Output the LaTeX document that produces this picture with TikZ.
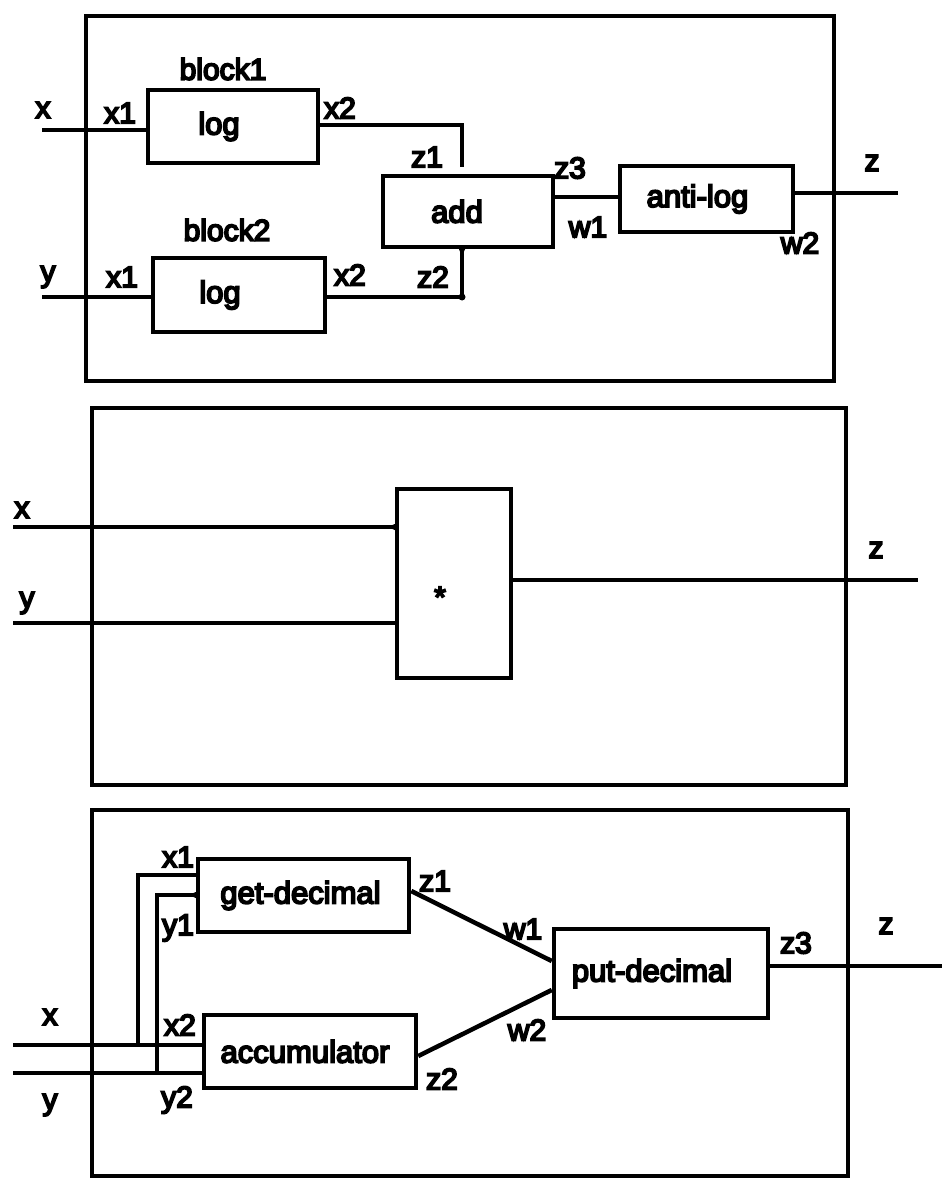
\documentclass[tikz,border=0pt]{standalone}
\usepackage{fontspec}
\newfontfamily\dfont{Liberation Sans}
\newcommand\hv[1]{\special{pdf:literal direct 2 Tr 1.8 w}#1\special{pdf:literal direct 0 Tr}}
\begin{document}
\begin{tikzpicture}[x=1pt,y=-1pt,
  frame/.style={draw, line width=4.5pt, inner sep=0pt},
  box/.style={draw, line width=4.5pt, inner sep=0pt, font=\dfont\fontsize{31}{36}\selectfont},
  lbl/.style={inner sep=0pt, font=\dfont\fontsize{30}{36}\selectfont},
  wire/.style={line width=4.5pt},
  jdot/.style={circle, fill, inner sep=0pt, minimum size=7pt}]
\useasboundingbox[fill=white] (0,0) rectangle (942,1180);

% ---------------- panel 1 ----------------
\node[frame, minimum width=748pt, minimum height=365pt] (f1) at (460,198.5) {};
\node[box, minimum width=170pt, minimum height=73pt] (b1) at (233,126.5) {\kern-28pt\hv{log}};
\node[box, minimum width=172pt, minimum height=74pt] (b2) at (239,295) {\kern-38pt\hv{log}};
\node[box, minimum width=170pt, minimum height=71pt] (ad) at (468,211.5) {\kern-22pt\hv{add}};
\node[box, minimum width=173pt, minimum height=66pt] (al) at (706.5,199) {\kern-18pt\hv{anti-log}};

\coordinate (xin1) at (42,130);
\coordinate (yin1) at (42,297);
\coordinate (j1) at (462,125);
\coordinate (j2) at (462,297);
\coordinate (zo1) at (898,193);
\draw[wire] (xin1) -- (xin1 -| b1.west);
\draw[wire] (yin1) -- (yin1 -| b2.west);
\draw[wire] (b1.east |- j1) -- (j1) -- ([yshift=7pt]j1 |- ad.north);
\draw[wire] (b2.east |- j2) -- (j2) -- (j2 |- ad.south);
\node[jdot] (d1) at (j2) {};
\node[jdot, minimum size=6pt] (d2) at (j2 |- ad.south) {};
\draw[wire] ([yshift=14.5pt]ad.east) -- ([yshift=14.5pt]ad.east -| al.west);
\draw[wire] (zo1 -| al.east) -- (zo1);

\node[lbl] (l1) at (223,69) {\hv{block1}};
\node[lbl] (l2) at (43,110) {\hv{x}};
\node[lbl] (l3) at (120,113) {\hv{x1}};
\node[lbl] (l4) at (340,108) {\hv{x2}};
\node[lbl] (l5) at (427,157) {\hv{z1}};
\node[lbl] (l6) at (570,168) {\hv{z3}};
\node[lbl] (l7) at (588,227) {\hv{w1}};
\node[lbl] (l8) at (800,243) {\hv{w2}};
\node[lbl] (l9) at (872,163) {\hv{z}};
\node[lbl] (l10) at (227,230) {\hv{block2}};
\node[lbl] (l11) at (48,277) {\hv{y}};
\node[lbl] (l12) at (122,277) {\hv{x1}};
\node[lbl] (l13) at (350,275) {\hv{x2}};
\node[lbl] (l14) at (433,277) {\hv{z2}};

% ---------------- panel 2 ----------------
\node[frame, minimum width=754pt, minimum height=377pt] (f2) at (469,596.5) {};
\node[box, minimum width=114pt, minimum height=189pt] (mu) at (454,583.5) {};
\node[lbl] (st) at (440,597) {\hv{*}};
\coordinate (xin2) at (13,527);
\coordinate (yin2) at (13,623);
\coordinate (zo2) at (918,580);
\draw[wire] (xin2) -- (xin2 -| mu.west);
\draw[wire] (yin2) -- (yin2 -| mu.west);
\draw[wire] (zo2 -| mu.east) -- (zo2);
\node[jdot, minimum size=6pt] (d3) at (xin2 -| mu.west) {};
\node[lbl] (m1) at (22,510) {\hv{x}};
\node[lbl] (m2) at (27,603) {\hv{y}};
\node[lbl] (m3) at (876,550) {\hv{z}};

% ---------------- panel 3 ----------------
\node[frame, minimum width=756pt, minimum height=366pt] (f3) at (470,993) {};
\node[box, minimum width=211pt, minimum height=73pt] (gd) at (303.5,895.5) {\kern-6pt\hv{get-decimal}};
\node[box, minimum width=212pt, minimum height=73pt] (ac) at (310,1051.5) {\kern-10pt\hv{accumulator}};
\node[box, minimum width=214pt, minimum height=89pt] (pd) at (661,973.5) {\kern-18pt\hv{put-decimal}};

\coordinate (xin3) at (13,1045);
\coordinate (yin3) at (13,1073);
\coordinate (c1) at (138,875);
\coordinate (c2) at (157,895);
\coordinate (zo3) at (942,966);
\draw[wire] (xin3) -- (xin3 -| ac.west);
\draw[wire] (yin3) -- (yin3 -| ac.west);
\draw[wire] (gd.west |- c1) -- (c1) -- (c1 |- xin3);
\draw[wire] (gd.west |- c2) -- (c2) -- (c2 |- yin3);
\node[jdot, minimum size=6pt] (d4) at (gd.west |- c2) {};
\draw[wire] ([yshift=4.5pt]gd.east) -- ([yshift=12.5pt]pd.west);
\draw[wire] ([yshift=-4.5pt]ac.east) -- ([yshift=-16.5pt]pd.west);
\draw[wire] (pd.east |- zo3) -- (zo3);

\node[lbl] (n1) at (178,857) {\hv{x1}};
\node[lbl] (n2) at (178,928) {\hv{y1}};
\node[lbl] (n3) at (180,1025) {\hv{x2}};
\node[lbl] (n4) at (177,1100) {\hv{y2}};
\node[lbl] (n5) at (50,1017) {\hv{x}};
\node[lbl] (n6) at (50,1105) {\hv{y}};
\node[lbl] (n7) at (435,881) {\hv{z1}};
\node[lbl] (n8) at (523,929) {\hv{w1}};
\node[lbl] (n9) at (527,1030) {\hv{w2}};
\node[lbl] (n10) at (442,1079) {\hv{z2}};
\node[lbl] (n11) at (796,943) {\hv{z3}};
\node[lbl] (n12) at (886,926) {\hv{z}};
\end{tikzpicture}
\end{document}
